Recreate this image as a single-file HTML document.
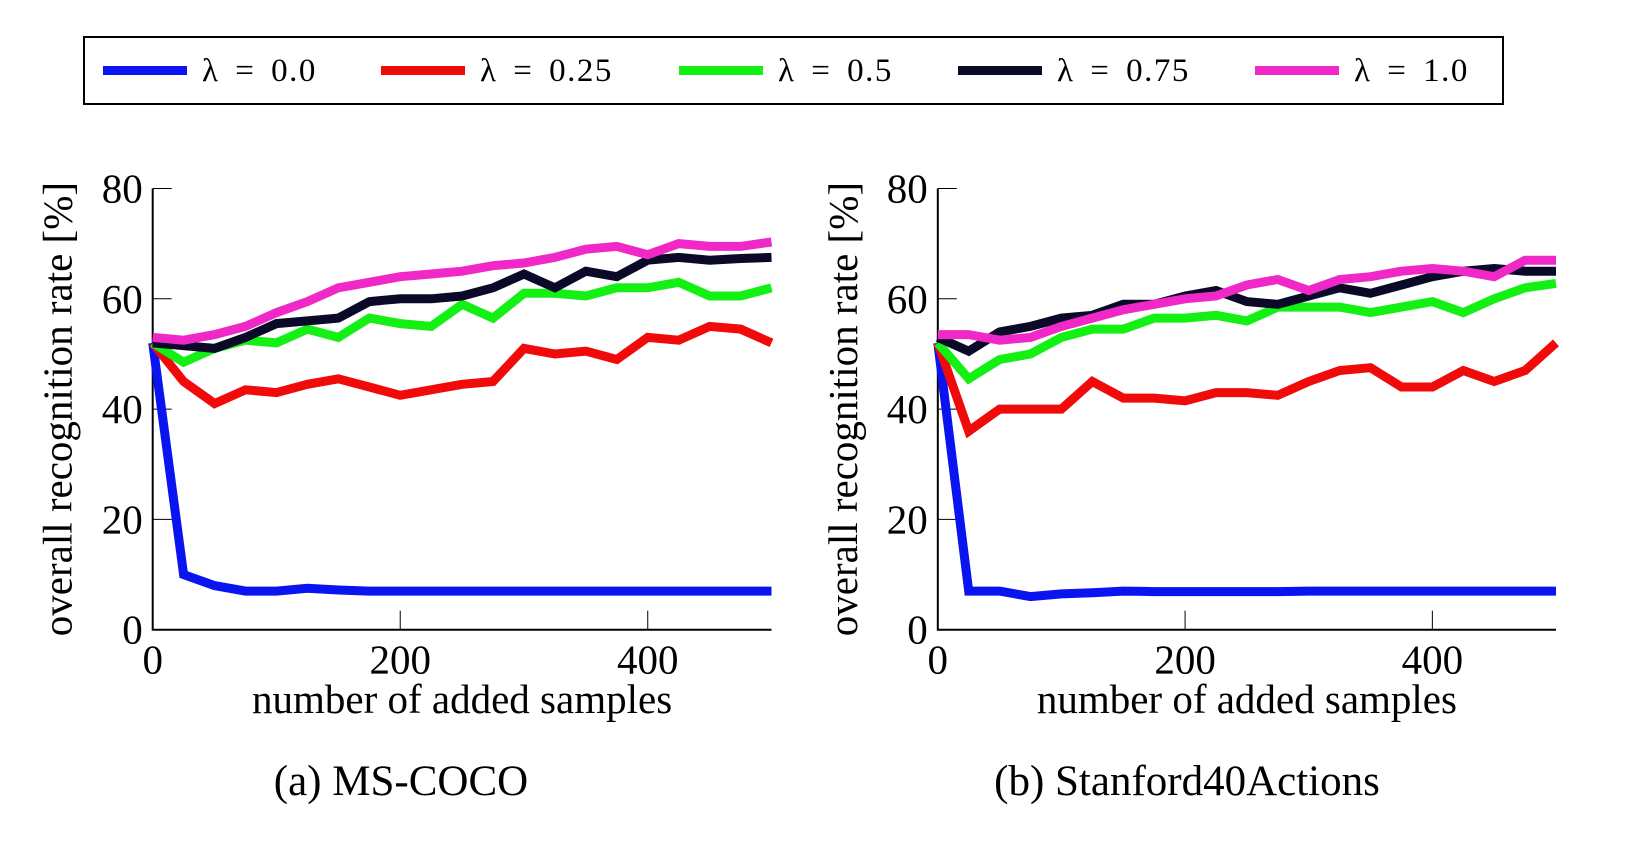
<!DOCTYPE html>
<html><head><meta charset="utf-8"><style>
html,body{margin:0;padding:0;background:#fff;}
svg{display:block;font-family:"Liberation Serif",serif;}
</style></head><body>
<svg id="fig" width="1651" height="849" viewBox="0 0 1651 849" xmlns="http://www.w3.org/2000/svg">
<g>
<rect x="84" y="37" width="1419" height="67" fill="#fff" stroke="#000" stroke-width="2"/>
</g>
</svg>
<script>
const xValues=[0,25,50,75,100,125,150,175,200,225,250,275,300,325,350,375,400,425,450,475,500];
const seriesLabels=["λ = 0.0","λ = 0.25","λ = 0.5","λ = 0.75","λ = 1.0"];
const seriesColors=["#0a14f0","#f00a0a","#14f014","#0a0a28","#f028c8"];
const cocoBlue=[52,10,8,7,7,7.5,7.2,7,7,7,7,7,7,7,7,7,7,7,7,7,7];
const cocoRed=[52,45,41,43.5,43,44.5,45.5,44,42.5,43.5,44.5,45,51,50,50.5,49,53,52.5,55,54.5,52];
const cocoGreen=[52,48.5,51,52.5,52,54.5,53,56.5,55.5,55,59,56.5,61,61,60.5,62,62,63,60.5,60.5,62];
const cocoBlack=[52,51.5,51,53,55.5,56,56.5,59.5,60,60,60.5,62,64.5,62,65,64,67,67.5,67,67.3,67.5];
const cocoPink=[53,52.5,53.5,55,57.5,59.5,62,63,64,64.5,65,66,66.5,67.5,69,69.5,68,70,69.5,69.5,70.3];
const stfBlue=[52,7,7,6,6.5,6.7,7,6.9,6.9,6.9,6.9,6.9,7,7,7,7,7,7,7,7,7];
const stfRed=[52,36,40,40,40,45,42,42,41.5,43,43,42.5,45,47,47.5,44,44,47,45,47,52];
const stfGreen=[52,45.5,49,50,53,54.5,54.5,56.5,56.5,57,56,58.5,58.5,58.5,57.5,58.5,59.5,57.5,60,62,62.8];
const stfBlack=[53,50.5,54,55,56.5,57,59,59,60.5,61.5,59.5,59,60.5,62,61,62.5,64,65,65.5,65,65];
const stfPink=[53.5,53.5,52.5,53,55,56.5,58,59,60,60.5,62.5,63.5,61.5,63.5,64,65,65.5,65,64,67,67];
const xTicks=[0,200,400];
const yTicks=[0,20,40,60,80];

const NS="http://www.w3.org/2000/svg";
const svg=document.getElementById('fig');
function mk(tag,attrs,parent){const e=document.createElementNS(NS,tag);for(const k in attrs)e.setAttribute(k,attrs[k]);(parent||svg).appendChild(e);return e;}

const legG=svg.querySelector('g');
const legLineX=[103,381,679,958,1255];
seriesLabels.forEach((lab,i)=>{
  const l=mk('line',{x1:legLineX[i],x2:legLineX[i]+84,y1:70.5,y2:70.5,stroke:seriesColors[i],'stroke-width':9},legG);
  
  
  const t=mk('text',{x:legLineX[i]+99,y:81,'font-size':33,fill:'#000','word-spacing':6,'letter-spacing':1.5},legG);
  
  
  t.textContent=lab;
});

function drawPlot(name,x0px,x1px,series,caption,capX){
  const y0px=629.7,y1px=188.5;
  const g=mk('g',{});
  
  
  const sx=v=>x0px+(v-0)/500*(x1px-x0px);
  const sy=v=>y0px-(v/80)*(y0px-y1px);
  const ax=mk('path',{d:`M${x0px},${y1px} V${y0px} H${x1px}`,fill:'none',stroke:'#000','stroke-width':2},g);
  
  
  yTicks.forEach(v=>{
    const tk=mk('line',{x1:x0px,x2:x0px+19,y1:sy(v),y2:sy(v),stroke:'#000','stroke-width':1},g);
    
    
    const t=mk('text',{x:x0px-10,y:sy(v)+14,'font-size':41,'text-anchor':'end'},g);
    
    
    t.textContent=v;
  });
  xTicks.forEach(v=>{
    const tk=mk('line',{x1:sx(v),x2:sx(v),y1:y0px,y2:y0px-19,stroke:'#000','stroke-width':1},g);
    
    
    const t=mk('text',{x:sx(v),y:y0px+44,'font-size':41,'text-anchor':'middle'},g);
    
    
    t.textContent=v;
  });
  series.forEach((vals,i)=>{
    const d=vals.map((v,j)=>(j?'L':'M')+sx(xValues[j]).toFixed(1)+','+sy(v).toFixed(1)).join(' ');
    const p=mk('path',{d:d,fill:'none',stroke:seriesColors[i],'stroke-width':9,'stroke-linejoin':'miter'},g);
    
    
  });
  const xt=mk('text',{x:(x0px+x1px)/2,y:713,'font-size':41,'text-anchor':'middle'},g);
  
  
  xt.textContent='number of added samples';
  const yx=x0px-81;
  const yt=mk('text',{x:0,y:0,'font-size':41,'text-anchor':'middle',transform:`translate(${yx},${(y0px+y1px)/2}) rotate(-90)`},g);
  
  
  yt.textContent='overall recognition rate [%]';
  const c=mk('text',{x:capX,y:795,'font-size':43,'text-anchor':'middle'},g);
  
  
  c.textContent=caption;
}
drawPlot('ms-coco',152.7,771.5,[cocoBlue,cocoRed,cocoGreen,cocoBlack,cocoPink],'(a) MS-COCO',401);
drawPlot('stanford40',937.8,1556,[stfBlue,stfRed,stfGreen,stfBlack,stfPink],'(b) Stanford40Actions',1187);
</script>
</body></html>
